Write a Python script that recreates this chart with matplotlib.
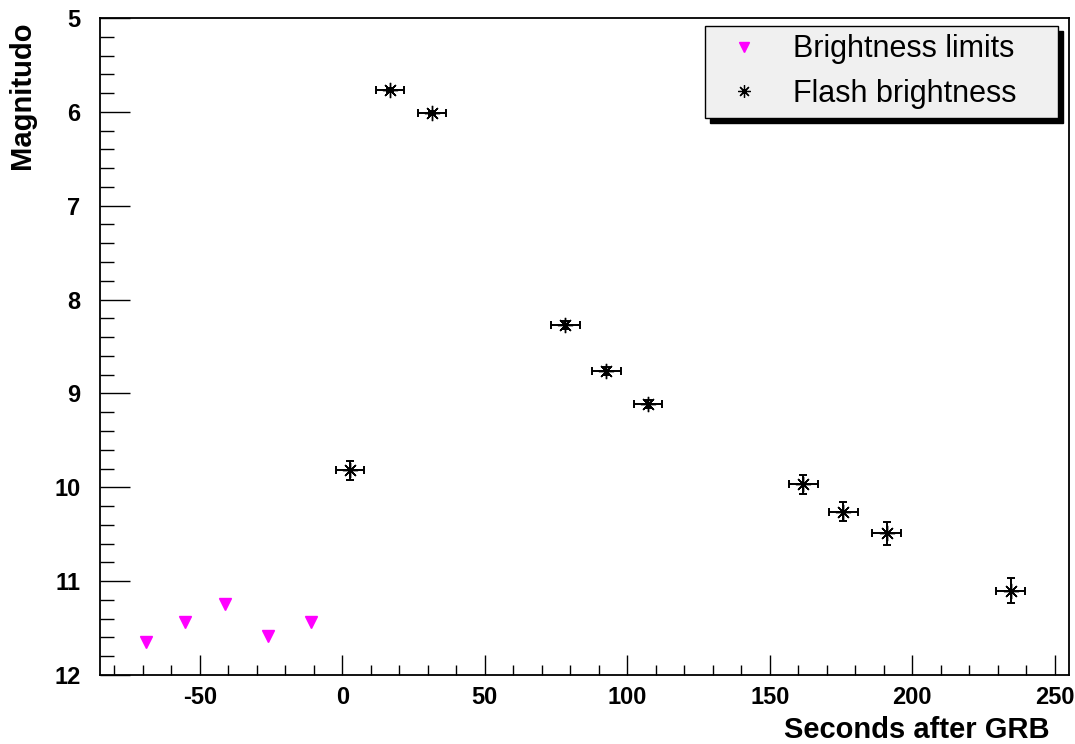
import matplotlib
matplotlib.use("Agg")
import matplotlib.pyplot as plt
from matplotlib.lines import Line2D
from matplotlib.ticker import MultipleLocator

plt.rcParams['font.family'] = ['Liberation Sans', 'DejaVu Sans']
plt.rcParams['axes.unicode_minus'] = False

# brightness limits (upper limits before the burst)
lim_t = [-69, -55, -41, -26, -11]
lim_mag = [11.65, 11.43, 11.24, 11.58, 11.43]

# flash points
flash_t = [2.8, 16.8, 31.5, 78.3, 92.7, 107.3, 161.8, 175.8, 191.0, 234.5]
flash_mag = [9.82, 5.77, 6.01, 8.27, 8.76, 9.11, 9.97, 10.26, 10.49, 11.10]
flash_terr = [5, 5, 5, 5, 5, 5, 5, 5, 5, 5]
flash_merr = [0.10, 0.02, 0.02, 0.04, 0.04, 0.04, 0.10, 0.10, 0.12, 0.13]

legend_labels = ["Brightness limits", "Flash brightness"]

fig = plt.figure(figsize=(10.75, 7.44), dpi=100)
ax = fig.add_axes([0.093, 0.0927, 0.9014, 0.8831])

star = (8, 2, 0)  # asterisk like ROOT marker 3

ax.plot(lim_t, lim_mag, linestyle='none', marker='v', markersize=9,
        color='#ff00ff', markeredgecolor='#ff00ff')
ax.errorbar(flash_t, flash_mag, xerr=flash_terr, yerr=flash_merr,
            fmt='none', ecolor='black', elinewidth=1.4, capsize=3, capthick=1.4)
ax.plot(flash_t, flash_mag, linestyle='none', marker=star, markersize=11,
        markeredgewidth=1.0, color='black')

ax.set_xlim(-85, 255)
ax.set_ylim(12, 5)
ax.xaxis.set_major_locator(MultipleLocator(50))
ax.xaxis.set_minor_locator(MultipleLocator(10))
ax.yaxis.set_major_locator(MultipleLocator(1))
ax.yaxis.set_minor_locator(MultipleLocator(0.2))

ax.tick_params(axis='x', which='major', direction='in', length=14.4, width=1,
               pad=8, labelsize=17)
ax.tick_params(axis='x', which='minor', direction='in', length=7.2, width=1)
ax.tick_params(axis='y', which='major', direction='in', length=21.6, width=1,
               pad=14, labelsize=17)
ax.tick_params(axis='y', which='minor', direction='in', length=10, width=1)
for lab in ax.get_xticklabels() + ax.get_yticklabels():
    lab.set_fontweight('bold')
for s in ax.spines.values():
    s.set_linewidth(1.3)

ax.set_xlabel("Seconds after GRB", fontsize=21, fontweight='bold',
              ha='right', va='center')
ax.xaxis.set_label_coords(0.980, -0.084)
ax.set_ylabel("Magnitudo", fontsize=21, fontweight='bold',
              ha='right', va='center')
ax.yaxis.set_label_coords(-0.0805, 0.994)

handles = [
    Line2D([], [], linestyle='none', marker='v', markersize=7, color='#ff00ff'),
    Line2D([], [], linestyle='none', marker=star, markersize=9,
           markeredgewidth=0.9, color='black'),
]
leg = ax.legend(handles, legend_labels, loc='upper left',
                bbox_to_anchor=(0.624, 0.988, 0.365, 0), mode='expand',
                borderaxespad=0, fontsize=22, fancybox=False,
                facecolor='#f0f0f0', edgecolor='black', framealpha=1,
                borderpad=0.28, labelspacing=0.48, handlelength=2.0,
                handletextpad=0.6,
                shadow={'color': 'black', 'alpha': 1, 'ox': 3.6, 'oy': -3.6})
leg.get_frame().set_linewidth(1.0)

fig.savefig("out.png", dpi=100)
